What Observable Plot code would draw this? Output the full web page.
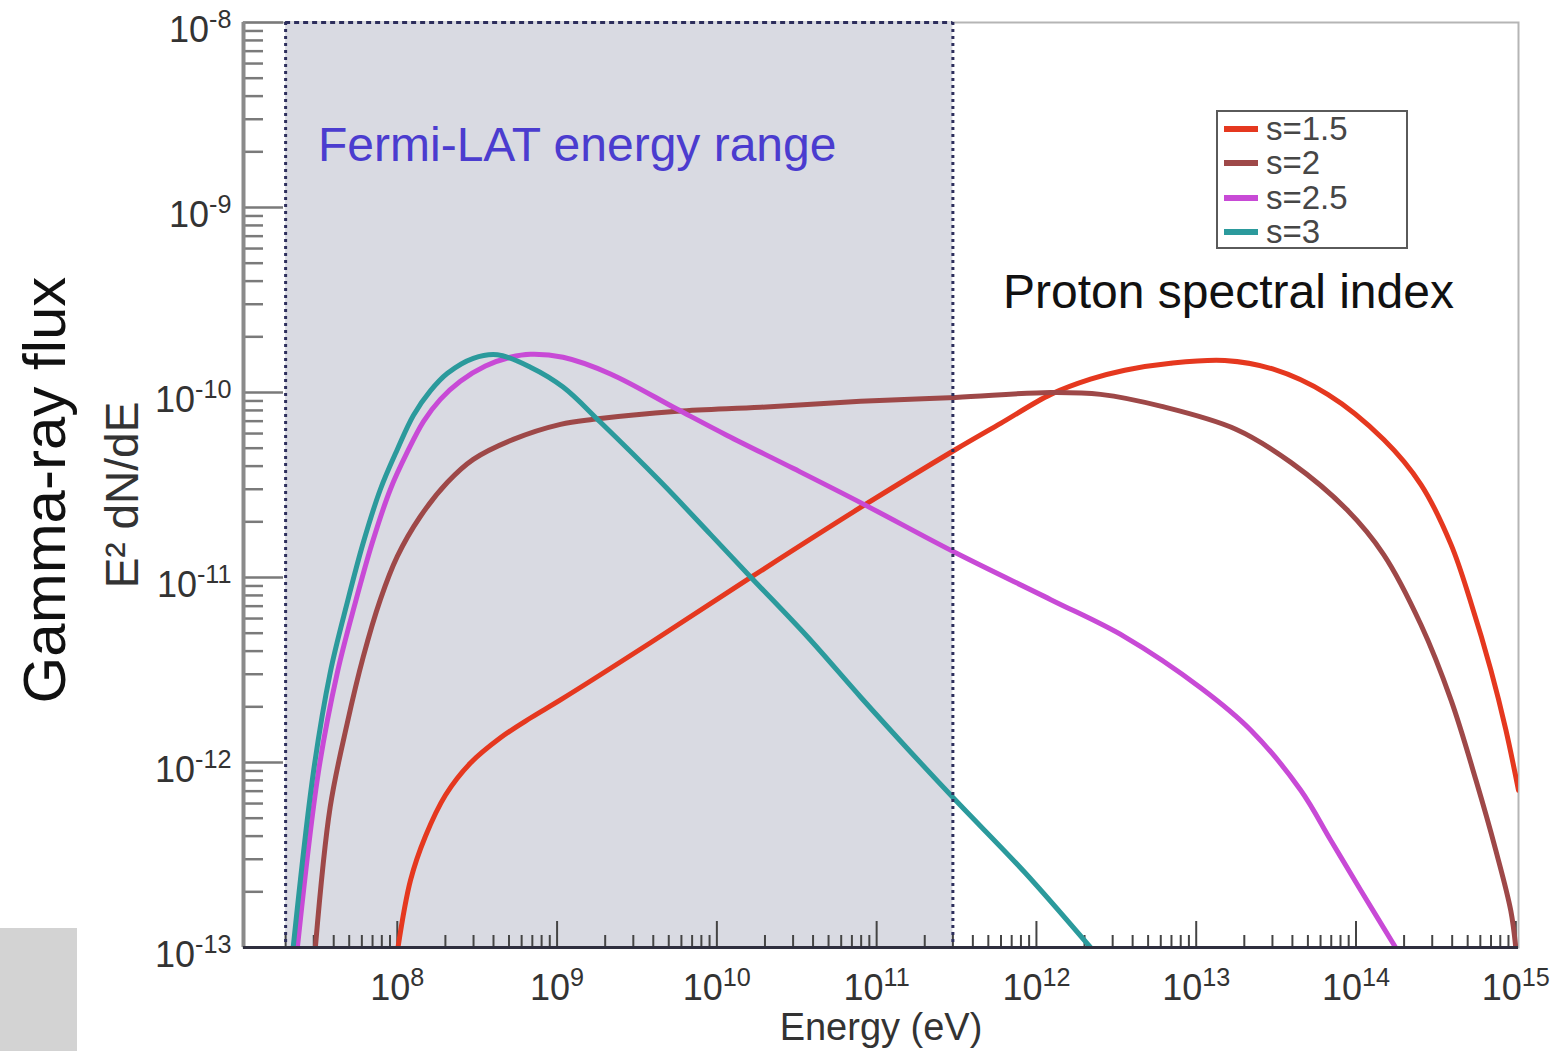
<!DOCTYPE html>
<html>
<head>
<meta charset="utf-8">
<script src="https://cdn.jsdelivr.net/npm/d3@7"></script>
<script src="https://cdn.jsdelivr.net/npm/@observablehq/plot@0.6"></script>
<style>
  html, body { margin: 0; padding: 0; background: #fff; }
  #wrap { position: relative; width: 1567px; height: 1051px; overflow: hidden; font-family: "Liberation Sans", Arial, sans-serif; }
  #chart { position: absolute; left: 0; top: 0; }
  .ann { position: absolute; white-space: nowrap; line-height: 1; }
  #legend { position: absolute; left: 1216px; top: 110px; width: 188px; height: 135px; border: 2px solid #5a5a5a; background: #fff; }
  .row { position: absolute; left: 4px; height: 34px; }
  .sw { position: absolute; left: 2px; top: 14px; width: 34px; height: 6px; }
  .lab { position: absolute; left: 44px; top: 0px; font-size: 33px; color: #464646; line-height: 34px; }
  #patch { position: absolute; left: 0; top: 928px; width: 77px; height: 123px; background: #d3d3d3; }
</style>
</head>
<body>
<div id="wrap">
  <div id="chart"></div>
  <div id="patch"></div>
  <div class="ann" style="left:318px; top:121px; font-size:48px; color:#4b3ccf;">Fermi-LAT energy range</div>
  <div class="ann" style="left:1003px; top:268px; font-size:48px; color:#111;">Proton spectral index</div>
  <div id="legend"></div>
</div>
<script>
// ---------------- data ----------------
const seriesNames = ["s=1.5", "s=2", "s=2.5", "s=3"];
const seriesColors = ["#e5381f", "#9e4848", "#c84ad6", "#2b9a9c"];

// s = 1.5
const s15Energy = [1.01e8, 1.21e8, 1.50e8, 2.00e8, 2.87e8, 4.42e8, 6.81e8, 1.05e9, 3.84e9, 1.62e10, 7.93e10, 3.12e11, 5.97e11, 1.23e12, 2.18e12, 3.57e12, 6.92e12, 1.51e13, 3.01e13, 6.65e13, 1.49e14, 2.55e14, 3.93e14, 5.24e14, 6.98e14, 8.67e14, 1.04e15];
const s15Flux   = [1.0e-13, 2.31e-13, 3.99e-13, 6.65e-13, 9.93e-13, 1.36e-12, 1.74e-12, 2.18e-12, 4.44e-12, 9.98e-12, 2.39e-11, 4.92e-11, 6.81e-11, 9.77e-11, 1.18e-10, 1.32e-10, 1.44e-10, 1.49e-10, 1.34e-10, 9.77e-11, 5.57e-11, 3.18e-11, 1.51e-11, 7.31e-12, 3.17e-12, 1.50e-12, 7.08e-13];

// s = 2
const s2Energy = [3.07e7, 3.80e7, 4.86e7, 6.12e7, 7.83e7, 1.0e8, 1.39e8, 2.06e8, 2.99e8, 5.32e8, 1.05e9, 1.69e9, 5.66e9, 1.88e10, 7.93e10, 3.12e11, 1.23e12, 2.52e12, 6.08e12, 1.77e13, 3.91e13, 8.75e13, 1.49e14, 2.55e14, 3.93e14, 5.63e14, 7.50e14, 9.31e14, 1.0e15];
const s2Flux   = [1.0e-13, 5.73e-13, 1.63e-12, 3.72e-12, 7.59e-12, 1.30e-11, 2.13e-11, 3.27e-11, 4.35e-11, 5.58e-11, 6.73e-11, 7.16e-11, 7.91e-11, 8.32e-11, 8.96e-11, 9.41e-11, 1.00e-10, 9.77e-11, 8.41e-11, 6.33e-11, 4.19e-11, 2.33e-11, 1.33e-11, 5.55e-12, 2.18e-12, 8.04e-13, 3.35e-13, 1.58e-13, 1.0e-13];

// s = 2.5
const s25Energy = [2.37e7, 3.20e7, 4.21e7, 5.46e7, 6.97e7, 9.04e7, 1.16e8, 1.46e8, 1.86e8, 2.48e8, 3.56e8, 5.10e8, 6.81e8, 1.09e9, 2.16e9, 5.66e9, 1.16e10, 3.02e10, 7.93e10, 3.12e11, 1.23e12, 3.57e12, 1.07e13, 2.19e13, 4.51e13, 6.95e13, 1.07e14, 1.77e14];
const s25Flux   = [1.0e-13, 8.77e-13, 3.05e-12, 7.31e-12, 1.54e-11, 2.99e-11, 4.80e-11, 6.98e-11, 9.18e-11, 1.15e-10, 1.39e-10, 1.55e-10, 1.61e-10, 1.55e-10, 1.26e-10, 8.11e-11, 5.86e-11, 3.88e-11, 2.54e-11, 1.36e-11, 7.59e-12, 4.78e-12, 2.53e-12, 1.50e-12, 7.08e-13, 3.80e-13, 2.04e-13, 1.0e-13];

// s = 3
const s3Energy = [2.23e7, 2.98e7, 3.80e7, 4.86e7, 6.12e7, 7.83e7, 1.0e8, 1.26e8, 1.61e8, 2.06e8, 2.99e8, 4.23e8, 6.81e8, 1.09e9, 1.87e9, 4.43e9, 9.12e9, 1.62e10, 3.69e10, 7.93e10, 1.63e11, 3.12e11, 8.44e11, 2.18e12];
const s3Flux   = [1.0e-13, 8.77e-13, 3.05e-12, 7.31e-12, 1.54e-11, 2.99e-11, 4.92e-11, 7.52e-11, 1.02e-10, 1.27e-10, 1.53e-10, 1.60e-10, 1.37e-10, 1.07e-10, 6.90e-11, 3.30e-11, 1.71e-11, 1.01e-11, 4.78e-12, 2.26e-12, 1.14e-12, 6.25e-13, 2.55e-13, 1.0e-13];

const fermiRange = [2.0e7, 3.0e11];
const xDomain = [1.09e7, 1.04e15];
const yDomain = [1e-13, 1e-8];
const xTickValues = [1e8, 1e9, 1e10, 1e11, 1e12, 1e13, 1e14, 1e15];
const yTickValues = [1e-13, 1e-12, 1e-11, 1e-10, 1e-9, 1e-8];
const xLabel = "Energy (eV)";
const yLabel = "E² dN/dE";
const yTitle = "Gamma-ray flux";

// ---------------- build table ----------------
const seriesE = [s15Energy, s2Energy, s25Energy, s3Energy];
const seriesF = [s15Flux, s2Flux, s25Flux, s3Flux];
const rows = seriesNames.flatMap((name, i) => seriesE[i].map((e, j) => ({series: name, E: e, F: seriesF[i][j]})));

// minor ticks
const xMinor = [];
for (let d = 7; d <= 14; d++) for (let m = 2; m <= 9; m++) { const v = m * 10 ** d; if (v > xDomain[0] && v < xDomain[1]) xMinor.push(v); }
const yMinor = [];
for (let d = -13; d < -8; d++) for (let m = 2; m <= 9; m++) yMinor.push(m * 10 ** d);

const W = 1567, H = 1051;
const mL = 243, mR = 49, mT = 22, mB = 104;
const plotW = W - mL - mR, plotH = H - mT - mB;
const expFmt = d => "10^" + Math.round(Math.log10(d));

const chart = Plot.plot({
  width: W, height: H,
  marginLeft: mL, marginRight: mR, marginTop: mT, marginBottom: mB,
  style: {fontFamily: '"Liberation Sans", Arial, sans-serif', background: "transparent", overflow: "visible"},
  x: {type: "log", domain: xDomain},
  y: {type: "log", domain: yDomain},
  color: {domain: seriesNames, range: seriesColors},
  marks: [
    Plot.frame({stroke: "#b5b5b5", strokeWidth: 2}),
    Plot.rect([{a: fermiRange[0], b: fermiRange[1]}], {x1: "a", x2: "b", fill: "#d9dae2"}),
    // ticks (inside)
    Plot.ruleY(yMinor, {stroke: "#7a7a7a", strokeWidth: 2.5, insetRight: plotW - 20}),
    Plot.ruleY(yTickValues, {stroke: "#7a7a7a", strokeWidth: 2.5, insetRight: plotW - 40}),
    Plot.ruleX(xMinor, {stroke: "#444", strokeWidth: 2, insetTop: plotH - 12}),
    Plot.ruleX(xTickValues, {stroke: "#444", strokeWidth: 2, insetTop: plotH - 26}),
    // curves
    Plot.line(rows, {x: "E", y: "F", z: "series", stroke: "series", strokeWidth: 5, curve: "catmull-rom", clip: true, strokeLinejoin: "round"}),
    // Fermi band borders
    Plot.ruleX(fermiRange, {stroke: "#2d2e5c", strokeWidth: 3, strokeDasharray: "3,4"}),
    Plot.ruleY([yDomain[1]], {x1: fermiRange[0], x2: fermiRange[1], stroke: "#2d2e5c", strokeWidth: 3, strokeDasharray: "5,4"}),
    // axis lines
    Plot.ruleX([xDomain[0]], {stroke: "#8a8a8a", strokeWidth: 4}),
    Plot.ruleY([yDomain[0]], {stroke: "#2e2e3e", strokeWidth: 3}),
    // tick labels
    Plot.axisX(xTickValues, {tickSize: 0, tickPadding: 27, tickFormat: expFmt, fontSize: 36, fill: "#333", label: null}),
    Plot.axisY(yTickValues, {tickSize: 0, tickPadding: 12, tickFormat: expFmt, fontSize: 36, fill: "#333", label: null, dy: 8}),
    // axis labels
    Plot.text([xLabel], {frameAnchor: "bottom", lineAnchor: "middle", textAnchor: "middle", dy: 80, fontSize: 38, fill: "#333"}),
    Plot.text([yLabel], {frameAnchor: "left", textAnchor: "middle", lineAnchor: "middle", dx: -120, dy: 10, rotate: -90, fontSize: 46, fill: "#333"}),
    Plot.text([yTitle], {frameAnchor: "left", textAnchor: "middle", lineAnchor: "middle", dx: -198, dy: 5, rotate: -90, fontSize: 60, fill: "#111"})
  ]
});

// superscript exponents in tick labels
const NS = "http://www.w3.org/2000/svg";
chart.querySelectorAll("text").forEach(t => {
  const s = t.textContent;
  if (!s.includes("^")) return;
  const [base, exp] = s.split("^");
  t.textContent = "";
  const a = document.createElementNS(NS, "tspan");
  a.textContent = base;
  const b = document.createElementNS(NS, "tspan");
  b.setAttribute("dy", "-0.55em");
  b.setAttribute("font-size", "0.7em");
  b.textContent = exp;
  t.append(a, b);
});
document.getElementById("chart").appendChild(chart);

// legend
const legend = document.getElementById("legend");
const rowTops = [0, 34, 69, 103];
seriesNames.forEach((n, i) => {
  const r = document.createElement("div");
  r.className = "row";
  r.style.top = rowTops[i] + "px";
  r.innerHTML = `<div class="sw" style="background:${seriesColors[i]}"></div><div class="lab">${n}</div>`;
  legend.appendChild(r);
});
</script>
</body>
</html>
